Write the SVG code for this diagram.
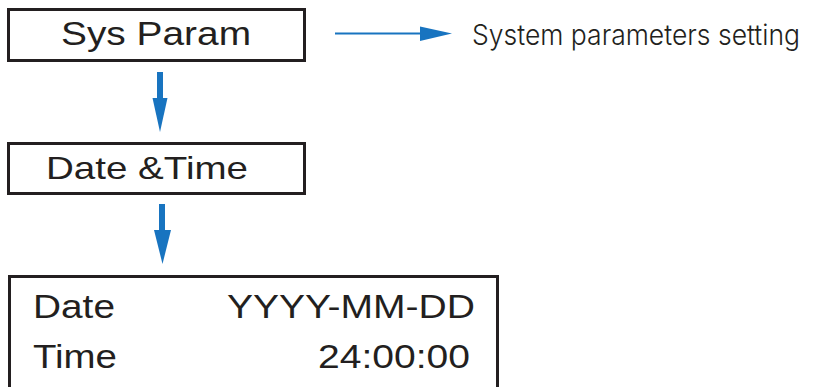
<svg xmlns="http://www.w3.org/2000/svg" width="813" height="387" viewBox="0 0 813 387">
<style>
.box{fill:#fff;stroke:#231f20;stroke-width:3}
.t{font-family:"Liberation Sans",Arial,sans-serif;fill:#231f20}
.conn{stroke:#1874c0;fill:none}
.head{fill:#1874c0}
</style>
<rect width="813" height="387" fill="#fff"/>
<g id="node-sysparam">
<rect class="box" x="8.5" y="9.5" width="296" height="51"/>
<text class="t" x="61" y="45" font-size="33" textLength="190" lengthAdjust="spacingAndGlyphs">Sys Param</text>
</g>
<g id="node-datetime">
<rect class="box" x="8.5" y="143.5" width="296" height="50"/>
<text class="t" x="46" y="179" font-size="32" textLength="202" lengthAdjust="spacingAndGlyphs">Date &amp;Time</text>
</g>
<g id="node-display">
<rect class="box" x="9.5" y="276.5" width="488" height="120"/>
<text class="t" x="33" y="318" font-size="34" textLength="82" lengthAdjust="spacingAndGlyphs">Date</text>
<text class="t" x="227" y="318" font-size="34" textLength="248" lengthAdjust="spacingAndGlyphs">YYYY-MM-DD</text>
<text class="t" x="33" y="368" font-size="34" textLength="84" lengthAdjust="spacingAndGlyphs">Time</text>
<text class="t" x="318" y="368" font-size="34" textLength="152" lengthAdjust="spacingAndGlyphs">24:00:00</text>
</g>
<g id="note">
<text transform="translate(472 45) scale(1 1.12)" x="0" y="0" font-family="Inter,'Open Sans',sans-serif" font-size="25" font-weight="300" fill="#231f20" textLength="328" lengthAdjust="spacingAndGlyphs">System parameters setting</text>
</g>
<g id="connectors">
<line class="conn" x1="160" y1="72" x2="160" y2="100" stroke-width="6"/>
<polygon class="head" points="152.5,98 167.5,98 160,132"/>
<line class="conn" x1="162" y1="204" x2="162" y2="232" stroke-width="6"/>
<polygon class="head" points="154,230 171,230 162.5,264"/>
<line class="conn" x1="335" y1="33.5" x2="422" y2="33.5" stroke-width="2"/>
<polygon class="head" points="420,26.5 452,33.5 420,41"/>
</g>
</svg>
